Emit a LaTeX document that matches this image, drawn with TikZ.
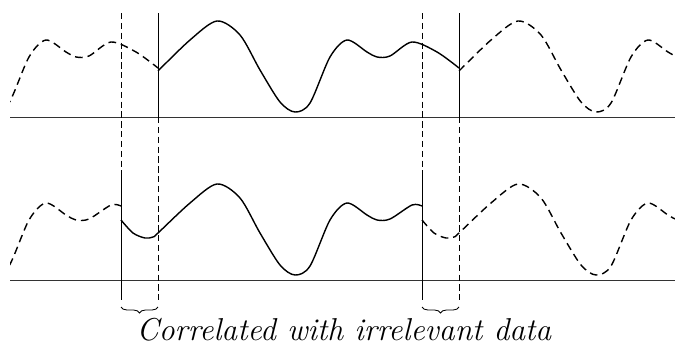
\documentclass[tikz,border=0pt]{standalone}
\usepackage{tikz}
\usetikzlibrary{decorations.pathreplacing}
\tikzset{
  axis/.style={line width=0.6pt, black!80},
  wave/.style={line width=1pt, line join=round},
  gap/.style={dash pattern=on 5.5pt off 3.5pt},
  edge/.style={line width=0.6pt},
  edgegap/.style={edge, dash pattern=on 4.5pt off 2.5pt},
  brc/.style={decorate, decoration={brace, mirror, amplitude=0.15cm}, line width=0.6pt},
  tcap/.style={font=\fontsize{22.5}{27}\selectfont\itshape, inner sep=0pt}
}

\begin{document}
\begin{tikzpicture}[x=0.025cm, y=0.025cm]
\useasboundingbox (0,0) rectangle (675,351);
\draw[axis] (10,234) -- (675,234);
\draw[axis] (10,71) -- (675,71);
\begin{scope}
\clip (10,0) rectangle (675,351);
\foreach \k/\ls in {-1/gap,0/solid,1/gap}{
  \draw[wave, \ls, shift={(301*\k,234)}] plot[smooth] coordinates {(158,46) (190,77) (217,96) (240,82) (260,47) (280,15) (295,5) (310,14) (330,60) (347,77) (367,65) (377,60) (390,61) (412,75) (437,65) (459,49)};
  \draw[wave, \ls, shift={(301*\k,71)}] plot[smooth] coordinates {(121,60) (133,47) (145,42) (153,43) (158,47) (190,77) (217,96) (240,82) (260,47) (280,15) (295,5) (310,14) (330,60) (347,77) (367,65) (377,60) (390,61) (412,75) (422,74)};
}
\end{scope}
\foreach \xa/\xb in {121/158,422/459}{
  \coordinate (wt\xa) at (\xa,338); \coordinate (wm\xa) at (\xa,176); \coordinate (wb\xa) at (\xa,51);
  \coordinate (wt\xb) at (\xb,338); \coordinate (wm\xb) at (\xb,234); \coordinate (wb\xb) at (\xb,51);
  \draw[edgegap] (wt\xa) -- (wm\xa);
  \draw[edge] (wm\xa) -- (wb\xa);
  \draw[edge] (wt\xb) -- (wm\xb);
  \draw[edgegap] (wm\xb) -- (wb\xb);
  \draw[brc] (\xa,44) -- (\xb,44);
}
\node[tcap, anchor=base] (cap) at (344,11) {Correlated with irrelevant data};
\end{tikzpicture}
\end{document}
